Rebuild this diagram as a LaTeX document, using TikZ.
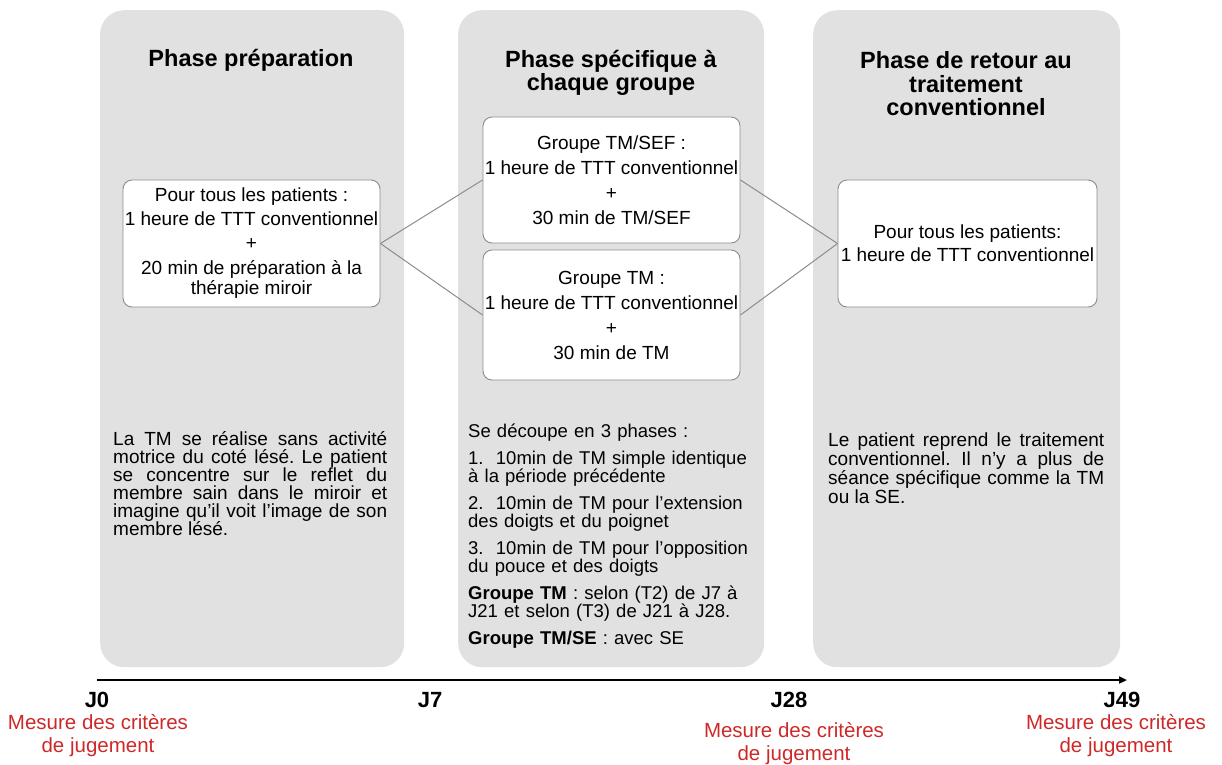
\documentclass[tikz,border=0pt]{standalone}
\usepackage{fontspec}
\setmainfont{Liberation Sans}
\usetikzlibrary{arrows.meta}
\definecolor{panelgray}{RGB}{225,225,225}
\definecolor{edgegray}{RGB}{140,140,140}
\definecolor{redtxt}{RGB}{206,40,40}
\frenchspacing
\begin{document}
\begin{tikzpicture}[x=1pt,y=-1pt,
  panel/.style={fill=panelgray, rounded corners=24pt, minimum height=657pt, anchor=north west, inner sep=0pt},
  ptitle/.style={font=\fontsize{23.5}{23.5}\selectfont\bfseries, align=center},
  box/.style={draw=edgegray, fill=white, rounded corners=9pt, line width=0.9pt, minimum width=257pt, align=center, font=\fontsize{19}{20}\selectfont, inner sep=0pt},
  link/.style={draw=edgegray, line width=1pt},
  body/.style={font=\fontsize{19}{18}\selectfont, inner sep=0pt, anchor=north west, align=justify},
  day/.style={font=\fontsize{22}{24}\selectfont\bfseries},
  mes/.style={font=\fontsize{20.5}{23}\selectfont, text=redtxt, align=center}
]
\useasboundingbox (0,0) rectangle (1222,764);

% panels
\node[panel, minimum width=304pt] (p1) at (100,10) {};
\node[panel, minimum width=306pt] (p2) at (458,10) {};
\node[panel, minimum width=307pt] (p3) at (813,10) {};

% titles
\node[ptitle] (t1) at (251,60) {Phase préparation};
\node[ptitle] (t2) at (611,73) {Phase spécifique à\\chaque groupe};
\node[ptitle] (t3) at (966,84) {Phase de retour au\\traitement\\conventionnel};

% boxes
\node[box, minimum height=127pt] (b1) at (251.5,243.5)
  {Pour tous les patients :\\[4pt]1 heure de TTT conventionnel\\[4pt]+\\[5pt]20 min de préparation à la\\thérapie miroir};
\node[box, minimum height=126pt] (bsef) at (611.5,180)
  {Groupe TM/SEF :\\[5pt]1 heure de TTT conventionnel\\[5pt]+\\[5pt]30 min de TM/SEF};
\node[box, minimum height=130pt] (btm) at (611.5,315)
  {Groupe TM :\\[5pt]1 heure de TTT conventionnel\\[5pt]+\\[5pt]30 min de TM};
\node[box, minimum width=259pt, minimum height=127pt] (b3) at (967.5,243.5)
  {Pour tous les patients:\\[3pt]1 heure de TTT conventionnel};

% connectors
\draw[link] (b1.east) -- (bsef.west);
\draw[link] (b1.east) -- (btm.west);
\draw[link] (bsef.east) -- (b3.west);
\draw[link] (btm.east) -- (b3.west);

% body texts
\node[body, text width=274pt] (d1) at (113,431)
  {\tolerance=9999\hyphenpenalty=10000 La TM se réalise sans activité\linebreak motrice du coté lésé. Le patient\linebreak se concentre sur le reflet du\linebreak membre sain dans le miroir et\linebreak imagine qu'il voit l’image de son\linebreak membre lésé.};
\node[body, text width=292pt, align=left, font=\fontsize{18.5}{18.5}\selectfont] (d2) at (468,424)
  {Se découpe en 3 phases :\\[8pt]
   1.\ \ 10min de TM simple identique\\
   à la période précédente\\[8pt]
   2.\ \ 10min de TM pour l’extension\\
   des doigts et du poignet\\[8pt]
   3.\ \ 10min de TM pour l’opposition\\
   du pouce et des doigts\\[8pt]
   \makebox[280pt][s]{\textbf{Groupe TM} : selon (T2) de J7 à}\\
   J21 et selon (T3) de J21 à J28.\\[8pt]
   \textbf{Groupe TM/SE} : avec SE};
\node[body, text width=276pt, font=\fontsize{19}{17}\selectfont] (d3) at (828,433)
  {\tolerance=9999\hyphenpenalty=10000 Le patient reprend le traitement\linebreak conventionnel. Il n’y a plus de\linebreak séance spécifique comme la TM\linebreak ou la SE.};

% timeline
\coordinate (tstart) at (97,680);
\coordinate (tend) at (1127,680);
\draw[line width=2.2pt, -{Triangle[length=8pt,width=7pt]}] (tstart) -- (tend);

\node[day] (j0) at (97,700) {J0};
\node[day] (j7) at (430,700) {J7};
\node[day] (j28) at (789,700) {J28};
\node[day] (j49) at (1122,700) {J49};

\node[mes] (m0) at (98,736) {Mesure des critères\\de jugement};
\node[mes] (m28) at (794,744) {Mesure des critères\\de jugement};
\node[mes] (m49) at (1116,736) {Mesure des critères\\de jugement};
\end{tikzpicture}
\end{document}
